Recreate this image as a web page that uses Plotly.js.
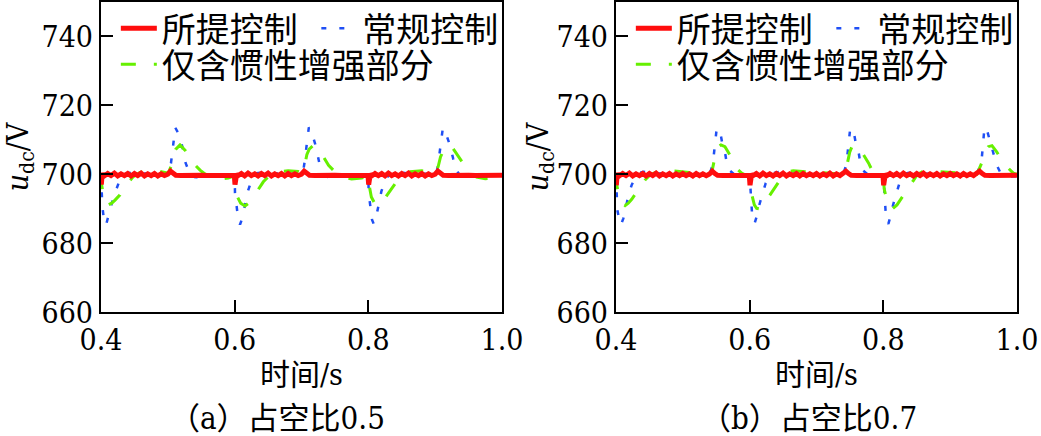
<!DOCTYPE html>
<html><head><meta charset="utf-8">
<script src="https://cdn.plot.ly/plotly-3.0.1.min.js"></script>
<style>
html,body{margin:0;padding:0;background:#fff;overflow:hidden;width:1041px;height:436px;}
#pa{position:absolute;left:0;top:0;width:545px;height:436px;z-index:1;}
#pb{position:absolute;left:520px;top:0;width:521px;height:436px;z-index:2;}
</style></head><body>
<div id="pa"></div><div id="pb"></div>
<script>
// ---------- shared labels ----------
var seriesNames = ['所提控制', '常规控制', '仅含惯性增强部分'];
var xTickVals = [0.4, 0.6, 0.8, 1.0];
var xTickText = ['0.4', '0.6', '0.8', '1.0'];
var yTickVals = [660, 680, 700, 720, 740];
var yTickText = ['660', '680', '700', '720', '740'];
var xTitle = '时间/s';
var yTitle = '<i>u</i><sub>dc</sub>/V';
var captions = ['（a）占空比0.5', '（b）占空比0.7'];

// ---------- (a) duty 0.5 ----------
var tRedA = [0.400,0.4005,0.4015,0.403,0.405,0.410,0.415,0.420,0.425,0.430,0.435,0.440,0.445,0.450,0.455,0.460,0.465,0.470,0.475,0.480,0.485,0.490,0.495,0.500,0.504,0.508,0.512,0.520,0.530,0.540,0.550,0.560,0.570,0.580,0.590,0.5995,
 0.6005,0.6015,0.603,0.605,0.610,0.615,0.620,0.625,0.630,0.635,0.640,0.645,0.650,0.655,0.660,0.665,0.670,0.675,0.680,0.685,0.690,0.695,0.700,0.704,0.708,0.712,0.720,0.730,0.740,0.750,0.760,0.770,0.780,0.790,0.7995,
 0.8005,0.8015,0.803,0.805,0.810,0.815,0.820,0.825,0.830,0.835,0.840,0.845,0.850,0.855,0.860,0.865,0.870,0.875,0.880,0.885,0.890,0.895,0.900,0.904,0.908,0.912,0.920,0.930,0.940,0.950,0.960,0.970,0.980,0.990,1.000];
var vRedA = [700.0,697.0,699.5,700.2,699.5,700.2,699.6,700.3,699.5,700.1,699.6,700.2,699.5,700.2,699.6,700.3,699.5,700.1,699.6,700.2,699.5,700.1,699.6,700.0,700.9,700.3,699.7,699.6,699.7,699.6,699.7,699.6,699.7,699.6,699.7,699.7,
 697.0,699.5,700.2,699.6,700.2,699.5,700.3,699.6,700.1,699.5,700.2,699.6,700.3,699.5,700.1,699.6,700.2,699.5,700.2,699.6,700.1,699.6,700.0,700.9,700.3,699.7,699.6,699.7,699.6,699.7,699.6,699.7,699.6,699.7,699.7,
 697.0,699.5,700.2,699.5,700.2,699.6,700.2,699.5,700.3,699.6,700.1,699.5,700.2,699.6,700.3,699.5,700.1,699.6,700.2,699.5,700.1,699.6,700.0,700.9,700.3,699.7,699.6,699.7,699.6,699.7,699.6,699.7,699.6,699.7,699.7];

var tBlueA = [0.400,0.401,0.402,0.4045,0.4075,0.4095,0.412,0.416,0.4195,0.4235,0.428,0.433,0.441,0.450,0.470,0.490,0.502,0.5047,0.5073,0.5092,0.5112,0.5157,0.5217,0.5267,0.5317,0.537,0.543,0.552,0.570,0.590,0.600,
 0.6005,0.603,0.6055,0.608,0.6105,0.613,0.6165,0.6195,0.623,0.627,0.633,0.645,0.660,0.690,0.702,0.7045,0.707,0.709,0.711,0.7155,0.7215,0.7265,0.7315,0.737,0.743,0.752,0.770,0.790,0.800,
 0.8005,0.803,0.8055,0.808,0.8105,0.813,0.8165,0.8195,0.823,0.827,0.833,0.845,0.860,0.890,0.902,0.9047,0.9073,0.9095,0.9115,0.916,0.922,0.927,0.932,0.940,0.946,0.955,0.970,1.000];
var vBlueA = [700.0,695.4,690.6,686.7,685.2,686.7,688.7,691.6,694.0,695.9,698.3,699.8,700.4,700.2,700.1,700.0,700.1,703.2,706.6,710.4,713.5,711.9,708.0,703.2,700.7,699.3,699.1,699.6,699.8,699.8,699.8,
 694.5,689.6,686.7,685.4,686.7,688.7,692.0,694.9,696.9,698.8,700.3,700.6,700.2,700.0,700.1,703.4,707.0,710.8,713.6,712.0,708.1,703.4,700.8,699.3,699.1,699.6,699.8,699.8,699.8,
 694.6,689.8,686.8,685.6,686.8,688.8,692.1,695.0,697.0,698.8,700.3,700.6,700.2,700.0,700.1,703.3,706.8,710.6,713.4,711.8,708.5,704.5,701.0,699.0,699.1,699.6,699.8,699.8];

var tGreenA = [0.400,0.401,0.4035,0.406,0.411,0.416,0.421,0.4284,0.4334,0.441,0.4483,0.4584,0.4708,0.4857,0.5007,0.5047,0.5082,0.5117,0.5182,0.5257,0.5332,0.5407,0.5482,0.5606,0.5756,0.5905,0.6005,
 0.6015,0.6045,0.609,0.6155,0.6215,0.6279,0.6354,0.6429,0.6504,0.6629,0.680,0.695,0.7005,0.7045,0.708,0.7115,0.718,0.7255,0.733,0.7405,0.748,0.760,0.775,0.790,0.8005,
 0.8015,0.8045,0.809,0.8145,0.821,0.8275,0.835,0.8425,0.850,0.8625,0.880,0.895,0.9005,0.9045,0.908,0.9115,0.918,0.922,0.9265,0.934,0.941,0.9495,0.962,0.975,0.990,1.000];
var vGreenA = [700.0,696.9,694.0,692.0,691.1,691.6,692.5,694.0,695.9,697.8,699.3,700.5,701.0,700.9,700.3,702.2,705.6,707.2,708.5,707.0,705.1,702.7,701.2,699.3,698.6,698.9,699.6,
 696.4,693.3,691.6,690.8,691.7,693.7,695.6,697.8,699.3,700.7,701.0,700.8,700.3,702.3,705.7,707.3,708.4,707.0,705.0,702.6,701.1,699.3,698.6,698.9,699.6,
 696.5,693.4,691.7,690.9,691.8,693.8,695.7,697.9,699.3,700.7,701.0,700.8,700.3,702.2,705.0,706.5,708.3,708.5,707.5,705.3,703.2,701.0,699.2,698.7,698.9,699.0];

// ---------- (b) duty 0.7 ----------
var tRedB = [0.400,0.4005,0.4015,0.403,0.405,0.410,0.415,0.420,0.425,0.430,0.435,0.440,0.445,0.450,0.455,0.460,0.465,0.470,0.475,0.480,0.485,0.490,0.495,0.500,0.505,0.510,0.515,0.520,0.525,0.530,0.535,0.540,0.544,0.548,0.552,0.560,0.570,0.580,0.590,0.5995,
 0.6005,0.6015,0.603,0.605,0.610,0.615,0.620,0.625,0.630,0.635,0.640,0.645,0.650,0.655,0.660,0.665,0.670,0.675,0.680,0.685,0.690,0.695,0.700,0.705,0.710,0.715,0.720,0.725,0.730,0.735,0.740,0.744,0.748,0.752,0.760,0.770,0.780,0.790,0.7995,
 0.8005,0.8015,0.803,0.805,0.810,0.815,0.820,0.825,0.830,0.835,0.840,0.845,0.850,0.855,0.860,0.865,0.870,0.875,0.880,0.885,0.890,0.895,0.900,0.905,0.910,0.915,0.920,0.925,0.930,0.935,0.940,0.944,0.948,0.952,0.960,0.970,0.980,0.990,1.000];
var vRedB = [700.0,696.8,699.5,700.2,699.5,700.2,699.6,700.3,699.5,700.1,699.6,700.2,699.5,700.2,699.6,700.3,699.5,700.1,699.6,700.2,699.5,700.1,699.6,700.2,699.6,700.1,699.5,700.2,699.6,700.1,699.6,700.1,700.9,700.2,699.7,699.6,699.7,699.6,699.7,699.7,
 696.8,699.5,700.2,699.6,700.2,699.5,700.3,699.6,700.1,699.5,700.2,699.6,700.3,699.5,700.1,699.6,700.2,699.5,700.2,699.6,700.1,699.6,700.2,699.5,700.1,699.6,700.3,699.5,700.1,699.6,700.1,700.9,700.2,699.7,699.6,699.7,699.6,699.7,699.7,
 696.8,699.5,700.2,699.5,700.2,699.6,700.2,699.5,700.3,699.6,700.1,699.5,700.2,699.6,700.3,699.5,700.1,699.6,700.2,699.5,700.1,699.6,700.2,699.6,700.1,699.5,700.2,699.6,700.1,699.6,700.1,700.9,700.2,699.7,699.6,699.7,699.6,699.7,699.7];

var tBlueB = [0.400,0.401,0.402,0.4045,0.4075,0.411,0.4135,0.416,0.4195,0.4235,0.427,0.4334,0.441,0.460,0.500,0.540,0.5447,0.5467,0.5486,0.5507,0.5556,0.5586,0.563,0.5657,0.5695,0.5806,0.588,0.5955,0.600,
 0.6015,0.6035,0.6055,0.6075,0.6105,0.613,0.618,0.6204,0.624,0.628,0.6354,0.6454,0.660,0.700,0.740,0.7447,0.7467,0.7486,0.7505,0.7555,0.7585,0.763,0.7657,0.7695,0.7806,0.788,0.7955,0.800,
 0.8015,0.8035,0.8055,0.8075,0.8105,0.813,0.818,0.8204,0.824,0.828,0.8354,0.8454,0.860,0.900,0.940,0.947,0.9506,0.9536,0.957,0.962,0.9696,0.9756,0.9866,1.000];
var vBlueB = [700.0,694.9,689.6,687.2,685.3,687.2,689.6,692.0,694.5,696.9,698.3,700.3,700.7,700.2,700.0,700.0,702.7,706.0,710.4,713.3,712.6,709.4,706.5,703.2,701.2,699.3,699.0,699.8,699.8,
 693.0,688.7,686.2,685.8,687.7,690.1,693.5,695.4,697.4,698.8,700.3,700.7,700.2,700.0,700.0,702.8,706.2,710.5,713.4,712.5,709.3,706.4,703.1,701.1,699.3,699.0,699.8,699.8,
 693.2,688.9,686.3,685.6,687.6,690.0,693.4,695.3,697.3,698.8,700.3,700.7,700.2,700.0,700.0,704.0,711.9,713.8,711.4,708.0,702.7,700.3,699.3,699.4];

var tGreenB = [0.400,0.401,0.405,0.4085,0.4135,0.4184,0.4235,0.4284,0.4334,0.4384,0.4434,0.4509,0.4609,0.4708,0.4857,0.5056,0.5306,0.540,0.544,0.5467,0.5497,0.553,0.557,0.563,0.568,0.573,0.578,0.583,0.588,0.593,0.5995,
 0.6015,0.604,0.607,0.6105,0.6155,0.6204,0.6255,0.6304,0.6354,0.6404,0.6454,0.6503,0.6578,0.6653,0.690,0.730,0.740,0.744,0.7467,0.7497,0.753,0.7576,0.763,0.768,0.773,0.778,0.783,0.788,0.793,0.7995,
 0.8015,0.804,0.807,0.8105,0.814,0.8204,0.8255,0.8304,0.8354,0.8404,0.8454,0.8503,0.8578,0.8653,0.890,0.930,0.940,0.947,0.9506,0.957,0.9626,0.9696,0.977,0.9846,0.9945,1.000];
var vGreenB = [700.0,696.9,693.5,691.6,690.9,691.6,692.7,694.0,695.4,696.9,698.3,699.8,700.7,701.2,700.9,700.5,700.1,700.0,701.2,704.1,706.5,708.0,708.5,708.0,706.5,705.1,703.2,701.2,700.3,699.8,699.3,
 695.4,693.0,691.1,690.1,689.9,691.1,692.5,694.0,695.4,696.9,698.3,699.8,700.7,701.0,700.6,700.1,700.0,701.2,704.0,706.4,708.0,708.5,708.0,706.5,705.0,703.2,701.2,700.3,699.8,699.3,
 695.5,693.0,691.0,690.1,690.0,691.1,692.5,694.0,695.4,696.9,698.3,699.8,700.7,701.0,700.6,700.1,700.0,703.2,706.0,708.0,708.3,706.5,704.1,702.2,700.3,700.0];

// ---------- styling ----------
var FONT = 'DejaVu Serif Condensed, DejaVu Serif, Noto Sans CJK SC';
var RED = '#ff0d0d', BLUE = '#1f4ff5', GREEN = '#66f000';

function makeFig(divId, W, tR, vR, tB, vB, tG, vG, caption, marginL, marginR, paperBg, capShift) {
  var traces = [
    {x: tB, y: vB, type: 'scatter', mode: 'lines', name: seriesNames[1], legend: 'legend2',
     line: {color: BLUE, width: 2.5, dash: '5px,13px'}},
    {x: tG, y: vG, type: 'scatter', mode: 'lines', name: seriesNames[2], legend: 'legend3',
     line: {color: GREEN, width: 3, dash: '15px,18px'}},
    {x: tR, y: vR, type: 'scatter', mode: 'lines', name: seriesNames[0], legend: 'legend',
     line: {color: RED, width: 5}}
  ];
  function axisCommon() {
    return {
      showline: true, linewidth: 2, linecolor: '#000', mirror: true,
      ticks: 'inside', ticklen: 12, tickwidth: 2, tickcolor: '#000',
      showgrid: false, zeroline: false, ticklabeloverflow: 'allow',
      tickfont: {family: FONT, size: 30, color: '#000'}
    };
  }
  function legCommon(x, y) {
    return {orientation: 'h', xanchor: 'left', yanchor: 'top', bgcolor: 'rgba(0,0,0,0)',
      borderwidth: 0, itemwidth: 36, x: x, y: y, font: {family: 'Noto Sans CJK SC', size: 34, color: '#000'}};
  }
  var layout = {
    width: W, height: 436,
    margin: {l: marginL, r: marginR, t: 2, b: 124, autoexpand: false},
    paper_bgcolor: paperBg, plot_bgcolor: '#fff',
    showlegend: true,
    font: {family: FONT, color: '#000'},
    xaxis: Object.assign(axisCommon(), {
      range: [0.4, 1.0], tickmode: 'array', tickvals: xTickVals, ticktext: xTickText,
      title: {text: xTitle, font: {family: FONT, size: 30, color: '#000'}, standoff: 8}
    }),
    yaxis: Object.assign(axisCommon(), {
      range: [660, 750], tickmode: 'array', tickvals: yTickVals, ticktext: yTickText,
      title: {text: yTitle, font: {family: FONT, size: 30, color: '#000'}, standoff: 10}
    }),
    legend: legCommon(0.037, 1.0075),
    legend2: legCommon(0.537, 1.0075),
    legend3: legCommon(0.037, 0.8915),
    annotations: [{
      text: caption, xref: 'paper', yref: 'paper', x: 0.5, y: -0.342,
      xanchor: 'center', yanchor: 'middle', showarrow: false, xshift: capShift,
      font: {family: FONT, size: 31, color: '#000'}
    }]
  };
  Plotly.newPlot(divId, traces, layout, {staticPlot: true, displayModeBar: false});
}

makeFig('pa', 545, tRedA, vRedA, tBlueA, vBlueA, tGreenA, vGreenA, captions[0], 101, 43, '#fff', -25);
makeFig('pb', 521, tRedB, vRedB, tBlueB, vBlueB, tGreenB, vGreenB, captions[1], 96, 24, 'rgba(0,0,0,0)', -8);
</script>
</body></html>
